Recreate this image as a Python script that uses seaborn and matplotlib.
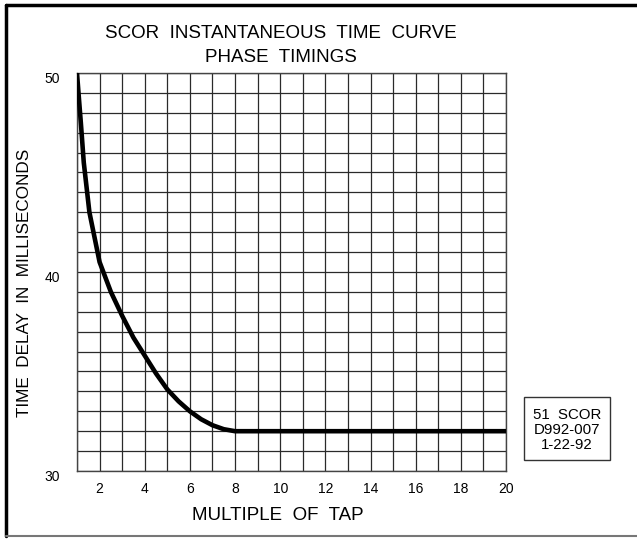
import numpy as np
import pandas as pd
import matplotlib
matplotlib.use('Agg')
import matplotlib.pyplot as plt
import matplotlib.transforms as mtransforms
from matplotlib.lines import Line2D
from matplotlib.patches import Rectangle
import seaborn as sns

# values
multiple = [1.0, 1.08, 1.17, 1.3, 1.55, 2.0, 2.5, 3.0, 3.5, 4.0, 4.5, 5.0, 5.5, 6.0, 6.5, 7.0, 7.5, 8.0, 20.0]
delay_ms = [50.0, 48.8, 47.5, 45.5, 43.0, 40.5, 39.0, 37.8, 36.7, 35.8, 34.9, 34.1, 33.5, 33.0, 32.6, 32.3, 32.1, 32.0, 32.0]

x_ticks = list(range(1, 21))
x_labels = [str(v) if v % 2 == 0 else '' for v in x_ticks]
y_ticks = list(range(30, 51))
y_labels = [str(v) if v % 10 == 0 else '' for v in y_ticks]

title = 'SCOR  INSTANTANEOUS  TIME  CURVE\nPHASE  TIMINGS'
stamp = '51  SCOR\nD992-007\n1-22-92'

sns.set_style('white')
plt.rcParams['font.family'] = ['Liberation Sans', 'DejaVu Sans']
for key in ['text.color', 'axes.labelcolor', 'xtick.color', 'ytick.color']:
    plt.rcParams[key] = 'black'

df = pd.DataFrame({'multiple': multiple, 'delay': delay_ms})

fig = plt.figure(figsize=(6.37, 5.39), dpi=100)
ax = fig.add_axes([77 / 637, 1 - 471 / 539, (506 - 77) / 637, (471 - 73) / 539])

sns.lineplot(data=df, x='multiple', y='delay', ax=ax, color='black', linewidth=3.3,
             solid_capstyle='butt', zorder=5)

ax.set_xlim(1, 20)
ax.set_ylim(30, 50)
ax.set_xticks(x_ticks)
ax.set_xticklabels(x_labels)
ax.set_yticks(y_ticks)
ax.set_yticklabels(y_labels)
ax.tick_params(axis='x', length=0, pad=8, labelsize=10)
ax.tick_params(axis='y', length=0, pad=12, labelsize=10)
ax.grid(True, color='#2a2a2a', linewidth=0.9)
for sp in ax.spines.values():
    sp.set_color('#444444')
    sp.set_linewidth(1.0)

# nudge y labels down a touch like the original
off = mtransforms.ScaledTranslation(0, -5 / 100, fig.dpi_scale_trans)
for lab in ax.get_yticklabels():
    lab.set_transform(lab.get_transform() + off)

ax.set_xlabel('MULTIPLE  OF  TAP', fontsize=13.5)
ax.set_ylabel('TIME  DELAY  IN  MILLISECONDS', fontsize=12.3)
ax.xaxis.set_label_coords((278 - 77) / (506 - 77), -(515 - 471) / (471 - 73))
ax.yaxis.set_label_coords(-(77 - 25) / (506 - 77), (471 - 283) / (471 - 73))
ax.xaxis.label.set_va('center')
ax.yaxis.label.set_va('center')

fig.text(281 / 637, 1 - 45.5 / 539, title, ha='center', va='center', fontsize=13.5,
         linespacing=1.58)

# stamp box
fig.add_artist(Rectangle((524 / 637, 1 - 460 / 539), 86 / 637, 63 / 539, transform=fig.transFigure,
                         fill=False, edgecolor='#333333', linewidth=1.0))
fig.text(567 / 637, 1 - 430 / 539, stamp, ha='center', va='center', fontsize=10.8,
         linespacing=1.1)

# page frame
fig.add_artist(Line2D([6 / 637, 1.0], [1 - 5 / 539, 1 - 5 / 539], color='black', linewidth=2.5))
fig.add_artist(Line2D([6 / 637, 6 / 637], [1 - 5 / 539, 1 - 536 / 539], color='black', linewidth=2.5))
fig.add_artist(Line2D([6 / 637, 1.0], [1 - 536 / 539, 1 - 536 / 539], color='#777777', linewidth=1.5))

fig.savefig('out.png', dpi=100)
